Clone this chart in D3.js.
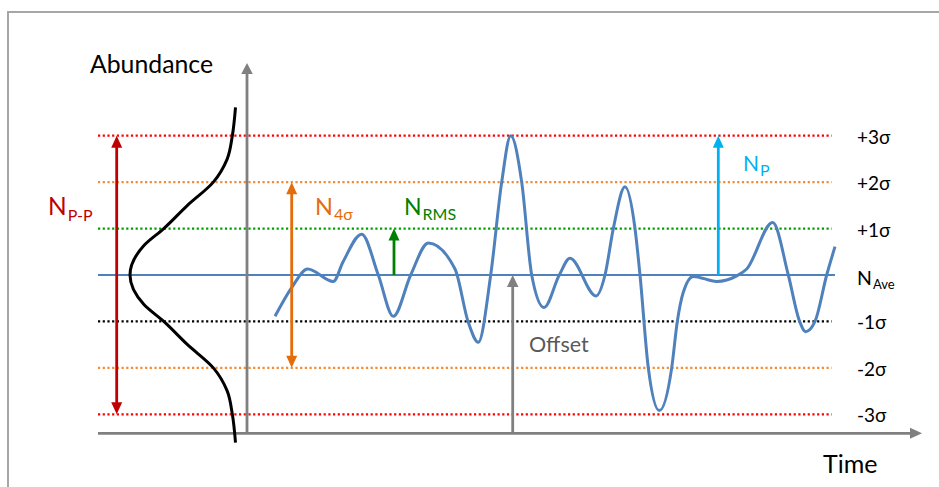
<!DOCTYPE html>
<html>
<head>
<meta charset="utf-8">
<script src="https://cdn.jsdelivr.net/npm/d3@7"></script>
<style>
body { margin: 0; background: #fff; }
text { font-family: Lato, "Open Sans", sans-serif; }
</style>
</head>
<body>
<div id="chart"></div>
<script>
// signal: time (from the y axis) and value in sigma units
var signalTime = [28, 45, 60.7, 86.3, 96, 114.7, 131.3, 146.3, 163.7, 181.3,
  208, 221.3, 231.3, 243.7, 254.7, 263.7, 274.7, 284.7, 297, 312.3,
  323, 349, 358, 366.3, 378, 388, 393, 401.3, 412.3, 424.7,
  430.3, 436.3, 446.3, 469.7, 489.7, 499.7, 525.7, 541.3, 552.3, 558.7,
  568, 579.7, 588];
var signalSigma = [-0.89, -0.26, 0.13, -0.14, 0.28, 0.88, 0, -0.89, 0, 0.69,
  0.13, -1.02, -1.45, 0, 2.0, 3.0, 2.0, 0, -0.70, 0,
  0.36, -0.45, 0, 1.0, 1.9, 1.0, 0, -2.0, -2.92, -2.0,
  -1.0, -0.37, -0.03, -0.14, -0.02, 0.13, 1.13, 0, -0.98, -1.22,
  -1.0, 0, 0.61];

// distribution curve on the left: sigma and relative abundance
var gaussSigma = [3.61, 3, 2.49, 2, 1.49, 1, 0.63, 0, -0.63, -1, -1.49, -2, -2.49, -3, -3.61];
var gaussDensity = [0, 0.03, 0.08, 0.21, 0.46, 0.68, 0.87, 1, 0.87, 0.68, 0.46, 0.21, 0.08, 0.03, 0];

// dotted sigma levels and their labels
var sigmaLevels = [3, 2, 1, -1, -2, -3];
var sigmaLabels = ["+3σ", "+2σ", "+1σ", "-1σ", "-2σ", "-3σ"];

// annotation arrows: time where they stand, from / to in sigma
var arrowNames = ["P-P", "4σ", "RMS", "P"];
var arrowTime = [-130.3, 44.7, 147, 471.3];
var arrowFrom = [-3, -2, 0, 0];
var arrowTo = [3, 2, 1, 3];
var offsetTime = 265.7;

var W = 939, H = 487;
var levelColor = { "3": "#ff0000", "2": "#f68b33", "1": "#00a000", "-1": "#000000", "-2": "#f68b33", "-3": "#ff0000" };
var arrowColor = ["#c00000", "#e46c0a", "#008000", "#00b0f0"];
var axisColor = "#808080";
var blue = "#4f81bd";

var svg = d3.select("#chart").append("svg")
  .attr("width", W)
  .attr("height", H);

var x = d3.scaleLinear().domain([0, 675]).range([247, 922]);
var y = d3.scaleLinear().domain([-3, 3]).range([414.3, 135.7]);
var abund = d3.scaleLinear().domain([0, 1]).range([235.5, 130]);

var xAxisY = 433.3, yAxisTop = 63, leftEdge = x(-149);

// frame
svg.append("path")
  .attr("d", "M8," + H + "V12H" + W)
  .attr("fill", "none")
  .attr("stroke", "#a6a6a6")
  .attr("stroke-width", 2);

// dotted levels
svg.selectAll(".level")
  .data(sigmaLevels)
  .enter()
  .append("line")
  .attr("class", "level")
  .attr("x1", leftEdge)
  .attr("x2", x(584.7))
  .attr("y1", function(d) { return y(d); })
  .attr("y2", function(d) { return y(d); })
  .attr("stroke", function(d) { return levelColor[d]; })
  .attr("stroke-width", 2.2)
  .attr("stroke-dasharray", "2.2,2.5");

// average line
svg.append("line")
  .attr("x1", leftEdge)
  .attr("x2", x(588))
  .attr("y1", y(0))
  .attr("y2", y(0))
  .attr("stroke", blue)
  .attr("stroke-width", 2);

// vertical arrow, head at yTo and also at yFrom if both
function arrow(xp, yFrom, yTo, color, both, hw, hl) {
  var dir = yTo > yFrom ? 1 : -1;
  var g = svg.append("g");
  g.append("line")
    .attr("x1", xp).attr("x2", xp)
    .attr("y1", both ? yFrom + dir * (hl - 1) : yFrom)
    .attr("y2", yTo - dir * (hl - 1))
    .attr("stroke", color)
    .attr("stroke-width", 2.8);
  var heads = both ? [[yTo, dir], [yFrom, -dir]] : [[yTo, dir]];
  heads.forEach(function(h) {
    g.append("polygon")
      .attr("points", [[xp, h[0]], [xp - hw / 2, h[0] - h[1] * hl], [xp + hw / 2, h[0] - h[1] * hl]].join(" "))
      .attr("fill", color);
  });
}

// axes
svg.append("line")
  .attr("x1", leftEdge).attr("x2", x(675) - 10)
  .attr("y1", xAxisY).attr("y2", xAxisY)
  .attr("stroke", axisColor).attr("stroke-width", 2.8);
svg.append("polygon")
  .attr("points", [[x(675), xAxisY], [x(675) - 12, xAxisY - 5.5], [x(675) - 12, xAxisY + 5.5]].join(" "))
  .attr("fill", axisColor);
arrow(x(0), xAxisY, yAxisTop, axisColor, false, 11.5, 11);

// distribution curve
var gLine = d3.line()
  .x(function(d) { return abund(d[1]); })
  .y(function(d) { return y(d[0]); })
  .curve(d3.curveMonotoneY);
svg.append("path")
  .datum(d3.zip(gaussSigma, gaussDensity))
  .attr("d", gLine)
  .attr("fill", "none")
  .attr("stroke", "#000")
  .attr("stroke-width", 3);

// offset arrow
arrow(x(offsetTime), xAxisY, y(0), axisColor, false, 11.5, 12);

// signal
var sLine = d3.line()
  .x(function(d) { return x(d[0]); })
  .y(function(d) { return y(d[1]); })
  .curve(d3.curveMonotoneX);
svg.append("path")
  .datum(d3.zip(signalTime, signalSigma))
  .attr("d", sLine)
  .attr("fill", "none")
  .attr("stroke", blue)
  .attr("stroke-width", 3);

// annotation arrows
arrowNames.forEach(function(n, i) {
  arrow(x(arrowTime[i]), y(arrowFrom[i]), y(arrowTo[i]), arrowColor[i], i < 2, 11, 12);
});

// text with a subscript
function label(xp, yp, main, sub, color, size, subSize, subDy) {
  var t = svg.append("text")
    .attr("x", xp)
    .attr("y", yp)
    .attr("fill", color)
    .style("font-size", size + "px");
  t.append("tspan").text(main);
  if (sub) {
    t.append("tspan")
      .attr("dy", subDy)
      .attr("dx", 1)
      .style("font-size", subSize + "px")
      .text(sub);
  }
}

var labelPos = [[48, 215], [315, 214.5], [404, 214.5], [743, 170.7]];
var labelSize = [24.5, 23.5, 23, 21];
arrowNames.forEach(function(n, i) {
  label(labelPos[i][0], labelPos[i][1], "N", n, arrowColor[i], labelSize[i], 16, 5.5);
});

svg.selectAll(".slabel")
  .data(sigmaLevels)
  .enter()
  .append("text")
  .attr("class", "slabel")
  .attr("x", 857)
  .attr("y", function(d) { return y(d) + 8; })
  .style("font-size", "19px")
  .attr("fill", "#000")
  .text(function(d, i) { return sigmaLabels[i]; });
label(857, 284.5, "N", "Ave", "#000", 19.5, 13, 4);

label(529, 352.3, "Offset", null, "#595959", 21.5);
label(90, 73.3, "Abundance", null, "#000", 24.8);
label(823, 473, "Time", null, "#000", 25);
</script>
</body>
</html>
